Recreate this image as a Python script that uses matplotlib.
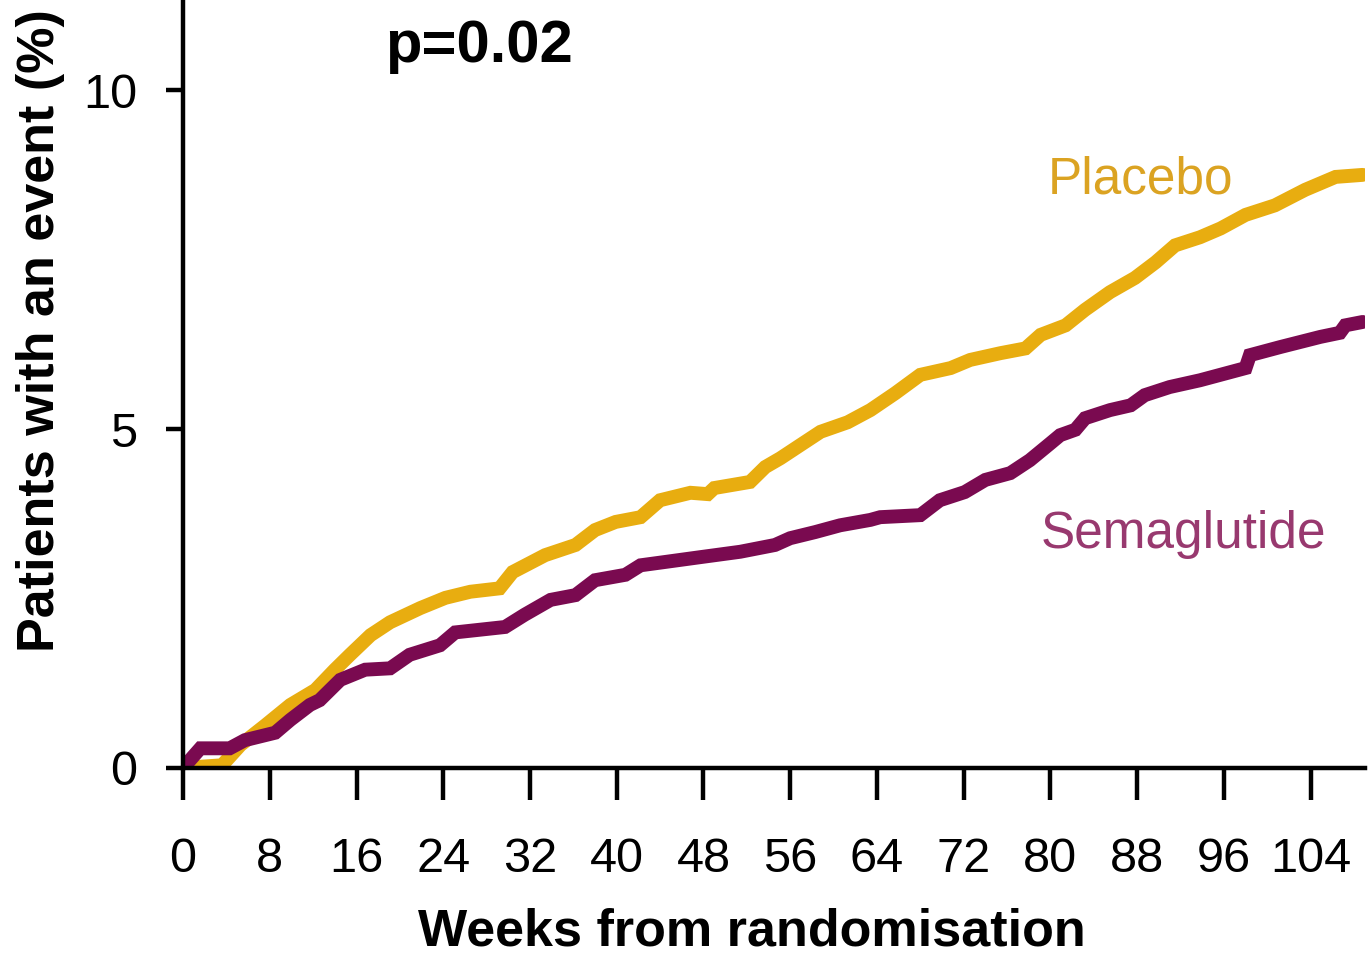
import matplotlib
matplotlib.use("Agg")
import matplotlib.pyplot as plt

plt.rcParams["font.family"] = ["Liberation Sans", "DejaVu Sans"]

# cumulative incidence (%) by week, read as (week, %) pairs
placebo_weeks = [0, 3.6, 5.3, 7.6, 9.9, 12.2, 14.0, 15.4, 17.3, 19.1, 21.9, 24.2,
                 26.5, 29.2, 30.4, 33.4, 36.2, 38.0, 39.9, 42.2, 44.0, 46.8, 48.4,
                 49.0, 52.3, 53.7, 55.1, 56.9, 58.8, 61.3, 63.4, 65.7, 68.0, 70.8,
                 72.6, 75.4, 77.7, 79.1, 81.4, 83.2, 85.5, 87.8, 89.7, 91.5, 93.8,
                 95.7, 98.0, 100.7, 103.5, 106.3, 108.8]
placebo_pct = [0, 0.04, 0.34, 0.63, 0.93, 1.15, 1.45, 1.67, 1.96, 2.15, 2.36, 2.51,
               2.60, 2.65, 2.89, 3.14, 3.29, 3.51, 3.63, 3.70, 3.95, 4.06, 4.04,
               4.13, 4.22, 4.44, 4.57, 4.76, 4.96, 5.10, 5.28, 5.53, 5.80, 5.90,
               6.02, 6.12, 6.19, 6.39, 6.53, 6.76, 7.02, 7.23, 7.46, 7.71, 7.83,
               7.96, 8.16, 8.30, 8.53, 8.72, 8.75]

sema_weeks = [0, 1.6, 4.3, 5.7, 8.5, 9.9, 11.7, 12.6, 14.5, 16.8, 19.1, 20.9, 23.7,
              25.1, 27.4, 29.7, 31.5, 33.9, 36.2, 38.0, 40.8, 42.2, 44.5, 47.7,
              51.4, 54.6, 56.0, 58.3, 60.6, 63.4, 64.3, 68.0, 69.8, 72.1, 74.0,
              76.3, 78.1, 80.0, 80.9, 82.3, 83.2, 85.5, 87.4, 88.7, 91.0, 93.8,
              96.6, 98.0, 98.4, 101.2, 104.9, 106.7, 107.2, 108.8]
sema_pct = [0, 0.29, 0.29, 0.41, 0.52, 0.71, 0.93, 1.00, 1.30, 1.45, 1.47, 1.67,
            1.81, 2.00, 2.04, 2.08, 2.26, 2.48, 2.55, 2.77, 2.85, 2.99, 3.04, 3.11,
            3.19, 3.29, 3.39, 3.48, 3.58, 3.66, 3.70, 3.73, 3.95, 4.07, 4.25, 4.35,
            4.54, 4.79, 4.91, 4.99, 5.16, 5.28, 5.35, 5.50, 5.62, 5.72, 5.84, 5.90,
            6.09, 6.21, 6.36, 6.42, 6.53, 6.58]

x_ticks = list(range(0, 105, 8))
y_ticks = [0, 5, 10]

gold = "#E8AD10"
plum = "#7A0A50"

fig = plt.figure(figsize=(13.71, 9.66), dpi=100)
ax = fig.add_axes([0.1335, 0.205, 0.862, 0.795])

ax.plot(placebo_weeks, placebo_pct, color=gold, lw=10, solid_joinstyle="miter",
        solid_capstyle="round", zorder=3)
ax.plot(sema_weeks, sema_pct, color=plum, lw=10, solid_joinstyle="miter",
        solid_capstyle="round", zorder=4)

ax.set_xlim(0, 109)
ax.set_ylim(0, 11.33)
ax.set_xticks(x_ticks)
ax.set_yticks(y_ticks)

for side in ("top", "right"):
    ax.spines[side].set_visible(False)
for side in ("left", "bottom"):
    ax.spines[side].set_linewidth(3.2)
    ax.spines[side].set_zorder(5)

ax.tick_params(axis="x", direction="out", length=23, width=3.2, pad=27,
               labelsize=35)
ax.tick_params(axis="y", direction="out", length=12, width=3.2, pad=21,
               labelsize=35)

ax.text(79.8, 8.48, "Placebo", color="#DBA322", fontsize=37, va="baseline")
ax.text(79.1, 3.24, "Semaglutide", color="#98396F", fontsize=37, va="baseline")
ax.text(18.6, 10.41, "p=0.02", fontsize=43, fontweight="bold", va="baseline")

fig.text(752 / 1371, 1 - 932 / 966, "Weeks from randomisation", fontsize=37.5,
         fontweight="bold", ha="center", va="center")
fig.text(41 / 1371, 1 - 331 / 966, "Patients with an event (%)", fontsize=37.5,
         fontweight="bold", ha="center", va="center", rotation=90)

fig.savefig("out.png", dpi=100)
